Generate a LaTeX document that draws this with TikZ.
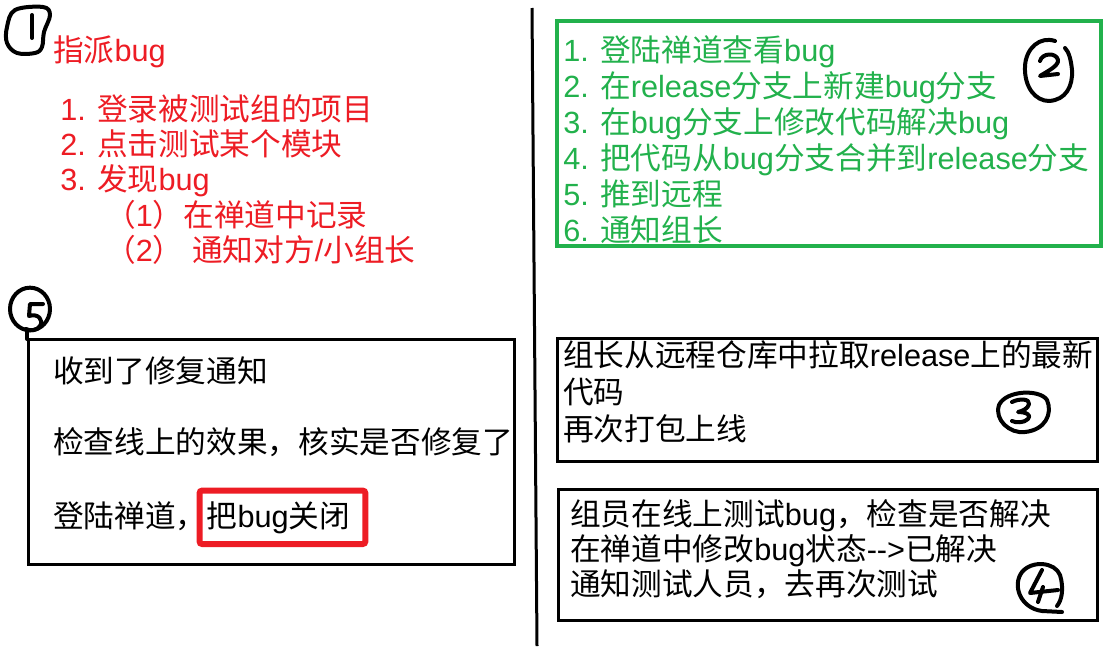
\documentclass[tikz,border=0pt]{standalone}
\usepackage{fontspec}
\setmainfont{Liberation Sans}
\newfontfamily\cjk{Noto Sans CJK SC}
\newcommand{\zh}[1]{{\cjk #1}}
\definecolor{notered}{HTML}{ED1C24}
\definecolor{notegreen}{HTML}{22B14C}
\tikzset{
  line/.style={anchor=base west, inner sep=0pt, font=\fontsize{23}{27}\selectfont},
  frame/.style={draw=black, line width=2.25pt},
  pen/.style={draw=black, line width=3pt, line cap=round, line join=round},
}
\begin{document}
\begin{tikzpicture}[x=0.75pt,y=-0.75pt]
\useasboundingbox (0,0) rectangle (1106,646);

% handwritten step marks
\draw[pen] plot[smooth cycle, tension=0.6] coordinates {(15,10) (43,7) (50,15) (44,32) (42,47) (35,53) (17,53) (7,43) (7,27)};
\draw[pen] (32,15) -- (32,38);
\draw[pen] (1055,41) .. controls (1040,36) and (1026,48) .. (1025,66) .. controls (1024,88) and (1036,101) .. (1049,101) .. controls (1066,100) and (1073,86) .. (1072,70) .. controls (1071,60) and (1069,52) .. (1065,48);
\draw[pen] (1040,61) .. controls (1042,53) and (1056,52) .. (1058,60) .. controls (1059,66) and (1046,72) .. (1040,76) -- (1058,74);
\draw[pen] (1047,400) .. controls (1040,389) and (1006,390) .. (999,405) .. controls (994,420) and (1010,434) .. (1025,432) .. controls (1045,430) and (1053,414) .. (1047,400);
\draw[pen] (1012,402) .. controls (1020,398) and (1030,399) .. (1029,404) .. controls (1028,409) and (1022,411) .. (1018,412) .. controls (1026,412) and (1032,415) .. (1028,419) .. controls (1024,423) and (1016,423) .. (1012,421);
\draw[pen] (1062,612) -- (1042,611) .. controls (1020,608) and (1012,585) .. (1022,572) .. controls (1032,560) and (1055,562) .. (1060,575) .. controls (1064,588) and (1062,600) .. (1057,606);
\draw[pen] (1042,570) -- (1030,593) -- (1058,590);
\draw[pen] (1043,587) -- (1038,602);
\draw[pen] (30,309) ellipse [x radius=15pt, y radius=16pt];
\draw[pen] (43,304) -- (30,304) -- (29,316) .. controls (38,313) and (44,320) .. (40,326) .. controls (37,331) and (30,331) .. (26,329);
\draw[pen] (27,330) -- (27,339);

% divider
\draw[line width=2.25pt] (532,8) -- (537,646);

% boxes
\draw[draw=notegreen, line width=3pt] (557,21) rectangle (1101,246);
\draw[frame] (557,338) rectangle (1097,461);
\draw[frame] (558,489) rectangle (1097,620);
\draw[frame] (28,339) rectangle (514,564);

% assign bug
\node[line, text=notered] (title) at (53,61) {\zh{指派}bug};
\node[line, text=notered] (r1) at (60,120) {1. \zh{登录被测试组的项目}};
\node[line, text=notered] (r2) at (60,155) {2. \zh{点击测试某个模块}};
\node[line, text=notered] (r3) at (60,190) {3. \zh{发现}bug};
\node[line, text=notered] (r4) at (105,226) {\zh{（}1\zh{）在禅道中记录}};
\node[line, text=notered] (r5) at (105,261) {\zh{（}2\zh{）} \zh{通知对方}/\zh{小组长}};

% fix bug
\node[line, text=notegreen] (g1) at (563,61) {1. \zh{登陆禅道查看}bug};
\node[line, text=notegreen] (g2) at (563,97) {2. \zh{在}release\zh{分支上新建}bug\zh{分支}};
\node[line, text=notegreen] (g3) at (563,133) {3. \zh{在}bug\zh{分支上修改代码解决}bug};
\node[line, text=notegreen] (g4) at (563,169) {4. \zh{把代码从}bug\zh{分支合并到}release\zh{分支}};
\node[line, text=notegreen] (g5) at (563,205) {5. \zh{推到远程}};
\node[line, text=notegreen] (g6) at (563,241) {6. \zh{通知组长}};

% release
\node[line] (p1) at (563,366) {\zh{组长从远程仓库中拉取}release\zh{上的最新}};
\node[line] (p2) at (563,403) {\zh{代码}};
\node[line] (p3) at (563,440) {\zh{再次打包上线}};

% retest
\node[line] (t1) at (570,525) {\zh{组员在线上测试}bug\zh{，检查是否解决}};
\node[line] (t2) at (570,560) {\zh{在禅道中修改}bug\zh{状态}-{}-{}>\zh{已解决}};
\node[line] (t3) at (570,595) {\zh{通知测试人员，去再次测试}};

% close bug
\node[line] (f1) at (53,382) {\zh{收到了修复通知}};
\node[line] (f2) at (53,453) {\zh{检查线上的效果，核实是否修复了}};
\node[line] (f3) at (53,527) {\zh{登陆禅道，}};
\node[line, draw=notered, line width=4.5pt, rounded corners=2pt, outer sep=0pt,
      inner xsep=5.5pt, inner ysep=8pt, xshift=-5.5pt] (close) at (f3.base east) {\zh{把}bug\zh{关闭}\kern6pt};
\end{tikzpicture}
\end{document}
